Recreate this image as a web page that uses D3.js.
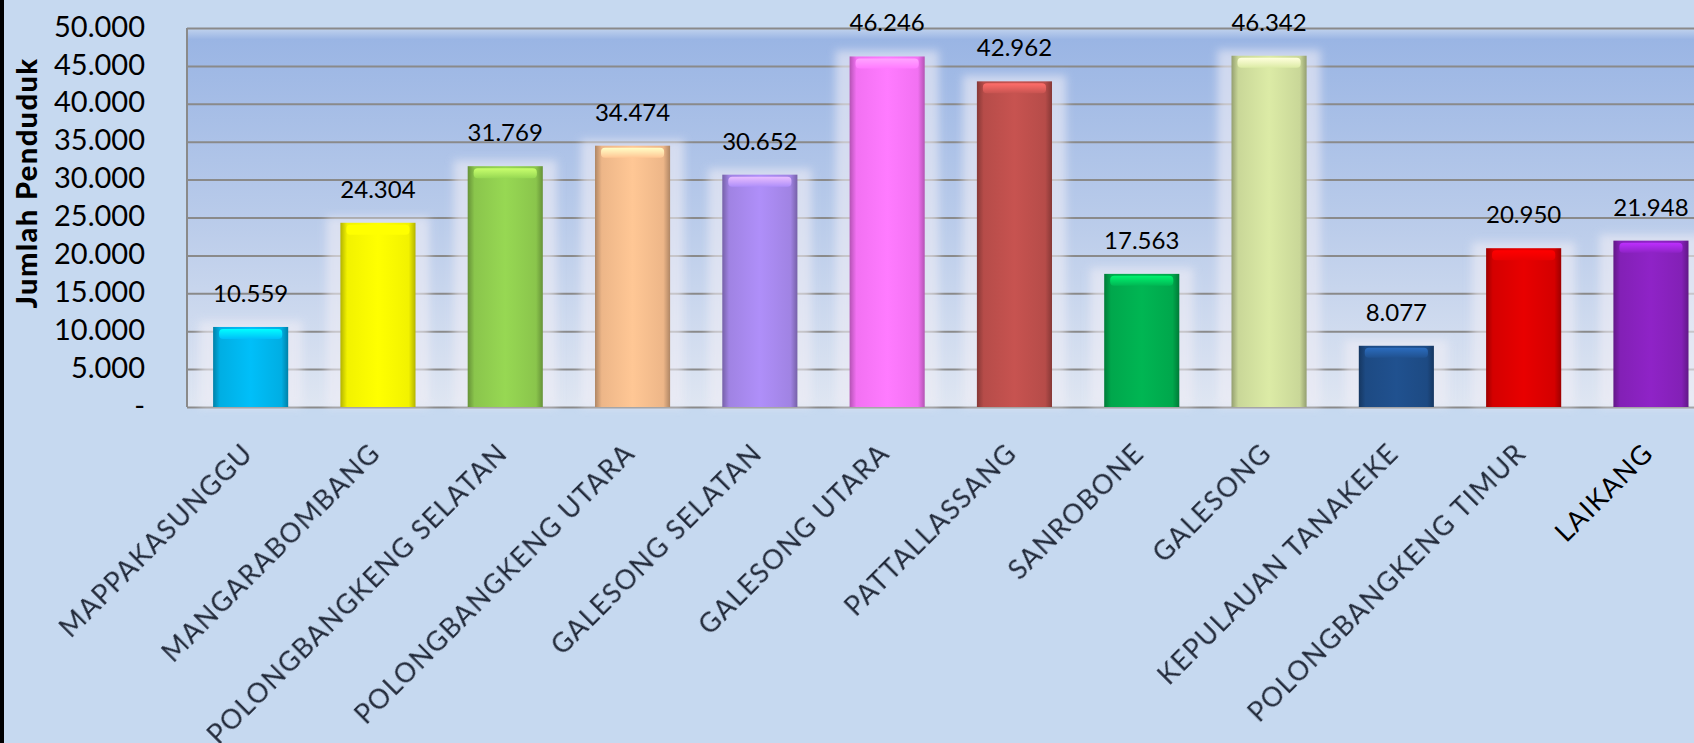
<!DOCTYPE html>
<html>
<head>
<meta charset="utf-8">
<script src="https://cdn.jsdelivr.net/npm/d3@7"></script>
<style>
  body { margin: 0; background: #c6d9f0; overflow: hidden; }
  text { font-family: Lato, "Open Sans", sans-serif; }
</style>
</head>
<body>
<div id="svg-container"></div>
<script>
const Width = 1694;
const Height = 743;

const categories = ["MAPPAKASUNGGU", "MANGARABOMBANG", "POLONGBANGKENG SELATAN", "POLONGBANGKENG UTARA",
    "GALESONG SELATAN", "GALESONG UTARA", "PATTALLASSANG", "SANROBONE", "GALESONG",
    "KEPULAUAN TANAKEKE", "POLONGBANGKENG TIMUR", "LAIKANG"];
const values = [10559, 24304, 31769, 34474, 30652, 46246, 42962, 17563, 46342, 8077, 20950, 21948];
const barColors = ["#00b8f0", "#ffff00", "#92d050", "#fac090", "#a98af0", "#ff77ff",
    "#c0504d", "#00b050", "#d4e3a0", "#1f4e8a", "#e00000", "#8a22c0"];
const yTicks = [0, 5000, 10000, 15000, 20000, 25000, 30000, 35000, 40000, 45000, 50000];

const plotLeft = 187;
const step = 127.3;
const plotTop = 28;
const plotBottom = 407;
const plotRight = plotLeft + step * categories.length;

const svg = d3.select("#svg-container").append("svg").attr("width", Width).attr("height", Height);
const defs = svg.append("defs");

const locale = d3.formatLocale({decimal: ",", thousands: ".", grouping: [3], currency: ["", ""]});
const fmt = locale.format(",");

const x = d3.scaleBand().domain(categories).range([plotLeft, plotRight]).paddingInner(0.41).paddingOuter(0.205);
const y = d3.scaleLinear().domain([0, 50000]).range([plotBottom, plotTop]);

// background
svg.append("rect").attr("width", Width).attr("height", Height).attr("fill", "#c6d9f0");
svg.append("rect").attr("width", 4).attr("height", Height).attr("fill", "#000");

const bg = defs.append("linearGradient").attr("id", "plotbg").attr("x1", 0).attr("y1", 0).attr("x2", 0).attr("y2", 1);
bg.append("stop").attr("offset", "0%").attr("stop-color", "#c3d4ee");
bg.append("stop").attr("offset", "3%").attr("stop-color", "#9ab5e4");
bg.append("stop").attr("offset", "50%").attr("stop-color", "#b9cbea");
bg.append("stop").attr("offset", "100%").attr("stop-color", "#dfe6f2");

svg.append("rect")
    .attr("x", plotLeft).attr("y", plotTop)
    .attr("width", plotRight - plotLeft).attr("height", plotBottom - plotTop)
    .attr("fill", "url(#plotbg)");

// gridlines
svg.append("g")
    .attr("transform", `translate(${plotLeft},0)`)
    .call(d3.axisLeft(y).tickValues(yTicks).tickSize(-(plotRight - plotLeft)).tickFormat(""))
    .call(g => g.select(".domain").remove())
    .call(g => g.selectAll("line").attr("stroke", "#8a8a8a").attr("stroke-width", 2));

svg.append("line")
    .attr("x1", plotLeft).attr("x2", plotLeft).attr("y1", plotTop).attr("y2", plotBottom)
    .attr("stroke", "#8a8a8a").attr("stroke-width", 2);

// y axis labels
svg.append("g")
    .attr("transform", `translate(${plotLeft},0)`)
    .call(d3.axisLeft(y).tickValues(yTicks).tickSize(0).tickPadding(42)
        .tickFormat(d => d === 0 ? "-" : fmt(d)))
    .call(g => g.select(".domain").remove())
    .call(g => g.selectAll("text")
        .attr("fill", "#000")
        .style("font-size", "29px")
        .style("font-family", "Lato, sans-serif")
        .attr("dy", "0.28em"));

svg.append("text")
    .attr("transform", `translate(37,183) rotate(-90)`)
    .attr("text-anchor", "middle")
    .style("font-size", "29px")
    .style("font-weight", "900")
    .style("letter-spacing", "1.4px")
    .attr("fill", "#000")
    .text("Jumlah Penduduk");

// filters
const halo = defs.append("filter").attr("id", "halo").attr("x", "-50%").attr("y", "-50%").attr("width", "200%").attr("height", "200%");
halo.append("feGaussianBlur").attr("stdDeviation", 4);
const soft = defs.append("filter").attr("id", "soft");
soft.append("feGaussianBlur").attr("stdDeviation", 0.5);

// bar gradients
barColors.forEach((c, i) => {
    const base = d3.color(c);
    const g = defs.append("linearGradient").attr("id", "bar" + i);
    g.append("stop").attr("offset", "0%").attr("stop-color", base.darker(1));
    g.append("stop").attr("offset", "9%").attr("stop-color", base.darker(0.15));
    g.append("stop").attr("offset", "50%").attr("stop-color", base.brighter(0.1));
    g.append("stop").attr("offset", "91%").attr("stop-color", base.darker(0.15));
    g.append("stop").attr("offset", "100%").attr("stop-color", base.darker(1));
    const t = defs.append("linearGradient").attr("id", "cap" + i).attr("x1", 0).attr("y1", 0).attr("x2", 0).attr("y2", 1);
    t.append("stop").attr("offset", "0%").attr("stop-color", base.brighter(0.9));
    t.append("stop").attr("offset", "100%").attr("stop-color", base.brighter(0.1));
});

const bars = svg.selectAll(".bar")
    .data(categories)
    .join("g")
    .attr("class", "bar");

bars.append("rect")
    .attr("x", d => x(d) - 14)
    .attr("y", (d, i) => y(values[i]) - 6)
    .attr("width", x.bandwidth() + 28)
    .attr("height", (d, i) => plotBottom - y(values[i]) + 6)
    .attr("fill", "#f0eef6")
    .attr("opacity", 0.6)
    .attr("filter", "url(#halo)");

bars.append("rect")
    .attr("x", d => x(d))
    .attr("y", (d, i) => y(values[i]))
    .attr("width", x.bandwidth())
    .attr("height", (d, i) => plotBottom - y(values[i]))
    .attr("fill", (d, i) => `url(#bar${i})`);

bars.append("rect")
    .attr("x", d => x(d) + 6)
    .attr("y", (d, i) => y(values[i]) + 2)
    .attr("width", x.bandwidth() - 12)
    .attr("height", 10)
    .attr("rx", 4)
    .attr("fill", (d, i) => `url(#cap${i})`);

// value labels
svg.selectAll(".val")
    .data(categories)
    .join("text")
    .attr("class", "val")
    .attr("x", d => x(d) + x.bandwidth() / 2)
    .attr("y", (d, i) => y(values[i]) - 25)
    .attr("text-anchor", "middle")
    .style("font-size", "24px")
    .attr("fill", "#000")
    .text((d, i) => fmt(values[i]));

// category labels
svg.selectAll(".cat")
    .data(categories)
    .join("text")
    .attr("class", "cat")
    .attr("transform", d => `translate(${x(d) + x.bandwidth() / 2 + 4},455) rotate(-45)`)
    .attr("text-anchor", "end")
    .style("font-size", "27px")
    .style("letter-spacing", "1.3px")
    .attr("fill", (d, i) => i === categories.length - 1 ? "#000" : "#232a3a")
    .attr("filter", (d, i) => i === categories.length - 1 ? null : "url(#soft)")
    .text(d => d);
</script>
</body>
</html>
